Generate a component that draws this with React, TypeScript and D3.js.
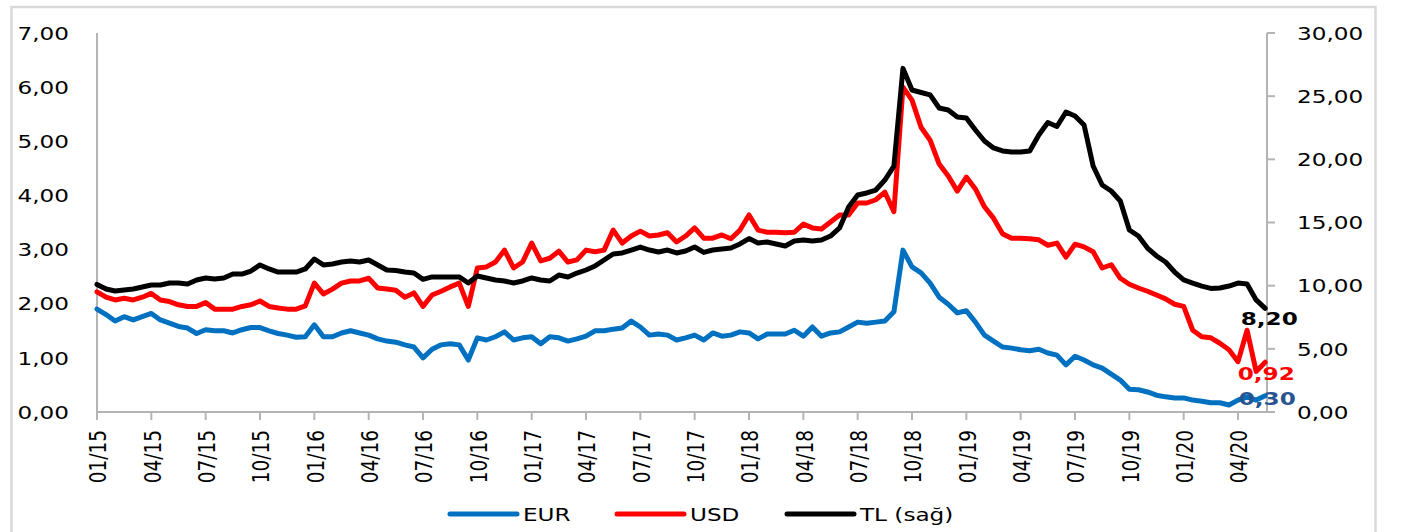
import React from "react";
import * as d3 from "d3";

const width = 1407;
const height = 532;
const margin = { top: 33, left: 97, bottom: 120, right: 140 };
const x0 = margin.left;
const x1 = 1267;
const yTop = margin.top;
const yBottom = height - margin.bottom;

// half-month observations starting 01/2015
const EUR = [
  1.90, 1.80, 1.68, 1.76, 1.70, 1.76, 1.82, 1.70, 1.64, 1.58, 1.55, 1.45, 1.52, 1.50, 1.50, 1.46, 1.52, 1.56, 1.56, 1.50, 1.45, 1.42, 1.38,
  1.39, 1.61, 1.39, 1.39, 1.46, 1.50, 1.46, 1.42, 1.35, 1.31, 1.29, 1.24, 1.20, 1.00, 1.16, 1.24, 1.26, 1.24, 0.96, 1.37, 1.33, 1.39,
  1.48, 1.33, 1.37, 1.39, 1.26, 1.39, 1.37, 1.31, 1.35, 1.40, 1.50, 1.50, 1.53, 1.55, 1.68, 1.57, 1.42, 1.44, 1.42, 1.33, 1.37, 1.42,
  1.33, 1.46, 1.40, 1.42, 1.48, 1.46, 1.35, 1.44, 1.44, 1.44, 1.51, 1.40, 1.57, 1.40, 1.46, 1.48, 1.57, 1.66, 1.64, 1.66, 1.68,
  1.85, 2.99, 2.68, 2.57, 2.38, 2.12, 1.99, 1.83, 1.87, 1.66, 1.42, 1.31, 1.20, 1.18, 1.15, 1.13, 1.16, 1.09, 1.05, 0.87, 1.03,
  0.96, 0.87, 0.81, 0.70, 0.59, 0.42, 0.41, 0.37, 0.31, 0.28, 0.26, 0.26, 0.22, 0.20, 0.17, 0.17, 0.13, 0.22, 0.28, 0.22, 0.30,
];

const USD = [
  2.22, 2.12, 2.07, 2.10, 2.07, 2.12, 2.19, 2.07, 2.04, 1.98, 1.95, 1.95, 2.02, 1.90, 1.90, 1.90, 1.95, 1.98, 2.05, 1.95, 1.92, 1.90, 1.90,
  1.96, 2.38, 2.18, 2.27, 2.38, 2.42, 2.42, 2.47, 2.29, 2.27, 2.25, 2.12, 2.20, 1.95, 2.16, 2.23, 2.31, 2.38, 1.95, 2.66, 2.68, 2.77,
  2.99, 2.66, 2.77, 3.12, 2.79, 2.84, 2.97, 2.77, 2.81, 2.99, 2.96, 2.99, 3.36, 3.12, 3.25, 3.34, 3.25, 3.27, 3.31, 3.14, 3.25, 3.40,
  3.21, 3.21, 3.27, 3.20, 3.36, 3.64, 3.36, 3.32, 3.32, 3.31, 3.32, 3.47, 3.40, 3.38, 3.51, 3.64, 3.64, 3.86, 3.86, 3.92, 4.06,
  3.70, 6.00, 5.76, 5.26, 5.02, 4.58, 4.36, 4.08, 4.34, 4.12, 3.79, 3.58, 3.29, 3.21, 3.21, 3.20, 3.18, 3.08, 3.12, 2.86, 3.10,
  3.05, 2.96, 2.66, 2.72, 2.47, 2.36, 2.29, 2.23, 2.16, 2.09, 1.99, 1.95, 1.51, 1.39, 1.37, 1.27, 1.15, 0.93, 1.51, 0.75, 0.92,
];

const TL = [
  10.10, 9.74, 9.58, 9.66, 9.74, 9.89, 10.05, 10.05, 10.21, 10.21, 10.13, 10.45, 10.61, 10.53, 10.61, 10.92, 10.92, 11.16, 11.64, 11.32, 11.08, 11.08, 11.08,
  11.32, 12.11, 11.64, 11.72, 11.87, 11.95, 11.87, 12.03, 11.64, 11.24, 11.20, 11.08, 11.00, 10.50, 10.69, 10.69, 10.69, 10.69, 10.21, 10.77, 10.61, 10.45,
  10.37, 10.21, 10.37, 10.61, 10.45, 10.37, 10.84, 10.69, 11.00, 11.24, 11.56, 12.03, 12.51, 12.59, 12.82, 13.06, 12.82, 12.67, 12.82, 12.59, 12.74, 13.06,
  12.63, 12.82, 12.90, 12.98, 13.30, 13.73, 13.38, 13.46, 13.30, 13.14, 13.54, 13.62, 13.54, 13.62, 13.93, 14.57, 16.23, 17.18, 17.34, 17.57, 18.36,
  19.47, 27.20, 25.49, 25.29, 25.10, 24.06, 23.91, 23.35, 23.27, 22.32, 21.45, 20.90, 20.66, 20.58, 20.58, 20.66, 21.93, 22.92, 22.60, 23.75, 23.43,
  22.72, 19.47, 17.97, 17.49, 16.70, 14.41, 13.93, 12.98, 12.35, 11.87, 11.08, 10.45, 10.21, 9.97, 9.78, 9.82, 9.97, 10.21, 10.13, 8.87, 8.20,
];

const tickLabels = [
  "01/15", "04/15", "07/15", "10/15", "01/16", "04/16", "07/16", "10/16",
  "01/17", "04/17", "07/17", "10/17", "01/18", "04/18", "07/18", "10/18",
  "01/19", "04/19", "07/19", "10/19", "01/20", "04/20",
];
const leftTicks = [0, 1, 2, 3, 4, 5, 6, 7];
const rightTicks = [0, 5, 10, 15, 20, 25, 30];

const font = "Verdana, 'DejaVu Sans', sans-serif";
const fs = 18.5;
const sx = 1.25;
const axisColor = "#b4b4b4";
const fmt = (v: number) => v.toFixed(2).replace(".", ",");

const periods = EUR.map((_, i) => i / 2);

const x = d3.scaleLinear().domain([0, 64.6]).range([x0, x1]);
const yL = d3.scaleLinear().domain([0, 7]).range([yBottom, yTop]);
const yR = d3.scaleLinear().domain([0, 30]).range([yBottom, yTop]);

function T(props: any) {
  const { x, y, rotate, children, ...rest } = props;
  const tr = rotate
    ? `translate(${x},${y}) rotate(-90) scale(1,${sx})`
    : `translate(${x},${y}) scale(${sx},1)`;
  return (
    <text transform={tr} fontFamily={font} fontSize={fs} dy="0.36em" {...rest}>
      {children}
    </text>
  );
}

export default function App() {
  const lineL = d3
    .line<number>()
    .x((_, i) => x(periods[i]))
    .y((d) => yL(d));
  const lineR = d3
    .line<number>()
    .x((_, i) => x(periods[i]))
    .y((d) => yR(d));

  const last = periods[periods.length - 1];
  const series = [
    { name: "EUR", color: "#0070C0", d: lineL(EUR) },
    { name: "USD", color: "#FF0000", d: lineL(USD) },
    { name: "TL (sağ)", color: "#000000", d: lineR(TL) },
  ];
  const legendX = [450, 617, 787];

  return (
    <svg
      width={width}
      height={height}
      style={{ position: "absolute", left: 0, top: 0, background: "#fff" }}
    >
      <rect x={11.5} y={7} width={1364} height={540} fill="#fff" stroke="#d9d9d9" strokeWidth={2.5} />

      {/* left axis */}
      <line x1={x0} x2={x0} y1={yTop} y2={yBottom} stroke={axisColor} strokeWidth={2} />
      {leftTicks.map((t) => (
        <T key={t} x={69} y={yL(t)} textAnchor="end" fill="#000">
          {fmt(t)}
        </T>
      ))}

      {/* right axis */}
      <line x1={x1} x2={x1} y1={yTop} y2={yBottom} stroke={axisColor} strokeWidth={2} />
      {rightTicks.map((t) => (
        <g key={t}>
          <line x1={x1} x2={x1 + 8} y1={yR(t)} y2={yR(t)} stroke={axisColor} strokeWidth={2} />
          <T x={1297} y={yR(t)} textAnchor="start" fill="#000">
            {fmt(t)}
          </T>
        </g>
      ))}

      {/* x axis */}
      <line x1={x0} x2={x1} y1={yBottom} y2={yBottom} stroke={axisColor} strokeWidth={2} />
      {tickLabels.map((lab, i) => (
        <g key={lab}>
          <line x1={x(i * 3)} x2={x(i * 3)} y1={yBottom} y2={yBottom + 8} stroke={axisColor} strokeWidth={2} />
          <T x={x(i * 3) + 1} y={430} rotate textAnchor="end" fill="#000">
            {lab}
          </T>
        </g>
      ))}

      {/* series */}
      {series.map((s) => (
        <path
          key={s.name}
          d={s.d || ""}
          fill="none"
          stroke={s.color}
          strokeWidth={5}
          strokeLinejoin="round"
          strokeLinecap="round"
        />
      ))}

      {/* end labels */}
      <T x={x(last) + 4} y={yR(TL[TL.length - 1]) + 10} textAnchor="middle" fontWeight="bold" fill="#000">
        {fmt(TL[TL.length - 1])}
      </T>
      <T x={x(last) + 1} y={yL(USD[USD.length - 1]) + 11} textAnchor="middle" fontWeight="bold" fill="#FF0000">
        {fmt(USD[USD.length - 1])}
      </T>
      <T x={x(last) + 2} y={yL(EUR[EUR.length - 1]) + 3} textAnchor="middle" fontWeight="bold" fill="#2a5490">
        {fmt(EUR[EUR.length - 1])}
      </T>

      {/* legend */}
      {series.map((s, i) => (
        <g key={s.name}>
          <line
            x1={legendX[i]}
            x2={legendX[i] + 67}
            y1={514}
            y2={514}
            stroke={s.color}
            strokeWidth={5}
            strokeLinecap="round"
          />
          <T x={legendX[i] + 73} y={514} textAnchor="start" fill="#000">
            {s.name}
          </T>
        </g>
      ))}
    </svg>
  );
}
